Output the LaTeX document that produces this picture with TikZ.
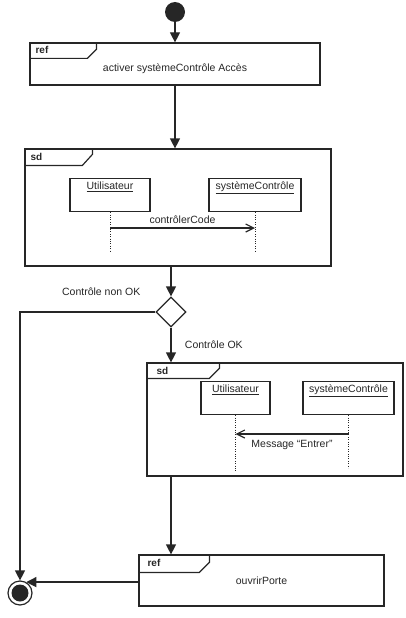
\documentclass[tikz,border=0pt]{standalone}
\usepackage{fontspec}
\setmainfont{Liberation Sans}
\usetikzlibrary{shapes.geometric,arrows.meta,positioning}
\tikzset{frame/.style={rectangle,draw,line width=1.2pt,inner sep=0pt},
  tabtext/.style={anchor=west,inner sep=0pt,font=\fontsize{10}{12}\selectfont\bfseries},
  lifebox/.style={rectangle,draw,line width=1.2pt,inner sep=3pt,anchor=north,text height=8pt,text depth=19pt},
  lifeline/.style={line width=1pt,dash pattern=on 1pt off 1.4pt},
  msg/.style={line width=1.2pt,-{Straight Barb[length=8pt,width=8pt]}},
  flow/.style={line width=1.2pt,-{Triangle[length=10pt,width=10pt]}},
  decision/.style={diamond,draw,line width=1.2pt,minimum width=30pt,minimum height=30pt,inner sep=0pt},
  initial/.style={circle,fill=black!85,minimum size=20pt,inner sep=0pt},
  final/.style={circle,draw,line width=1.2pt,minimum size=24pt,inner sep=0pt,
    path picture={\fill[black!85] (path picture bounding box.center) circle (8.5pt);}}}

\begin{document}
\begin{tikzpicture}[x=1pt,y=-1pt,font=\fontsize{10.5}{12}\selectfont,color=black!85]
        \useasboundingbox (0,0) rectangle (406,618);
        \node[initial] (init) at (175,12) {};
        \node[frame,minimum width=290pt,minimum height=42pt,text height=17pt] (ref1) at (175,64) {activer systèmeContrôle Accès};
        \node[frame,minimum width=306pt,minimum height=117pt] (sd1) at (178,207.5) {};
        \node[lifebox,minimum width=80pt] (u1) at (110,178) {\underline{Utilisateur}};
        \node[lifebox,minimum width=92pt] (s1) at (255,178) {\underline{systèmeContrôle}};
        \node[decision] (dec) at (171,312) {};
        \node[frame,minimum width=256pt,minimum height=113pt] (sd2) at (275,419.5) {};
        \node[lifebox,minimum width=69pt] (u2) at (235.5,381) {\underline{Utilisateur}};
        \node[lifebox,minimum width=91pt] (s2) at (348.5,381) {\underline{systèmeContrôle}};
        \node[frame,minimum width=245pt,minimum height=51pt] (ref2) at (261.5,580.5) {ouvrirPorte};
        \node[final] (fin) at (20,593) {};

        \coordinate (u1end) at (110,251);
        \coordinate (s1end) at (255,251);
        \coordinate (m1) at (0,228);
        \coordinate (u2end) at (235.5,472);
        \coordinate (s2end) at (348.5,468);
        \coordinate (m2) at (0,434);

        \draw[line width=1.2pt] (ref1.north west) ++(0,16) -- ++(58,0) -- ++(9,-9) -- ++(0,-7);
        \node[tabtext] at ([shift={(6,8)}]ref1.north west) {ref};
        \draw[line width=1.2pt] (sd1.north west) ++(0,17) -- ++(58,0) -- ++(10,-11) -- ++(0,-6);
        \node[tabtext] at ([shift={(6,9)}]sd1.north west) {sd};
        \draw[line width=1.2pt] (sd2.north west) ++(0,16) -- ++(63,0) -- ++(10,-10) -- ++(0,-6);
        \node[tabtext] at ([shift={(10,9)}]sd2.north west) {sd};
        \draw[line width=1.2pt] (ref2.north west) ++(0,18) -- ++(61,0) -- ++(10,-10) -- ++(0,-8);
        \node[tabtext] at ([shift={(9,9)}]ref2.north west) {ref};

        \draw[lifeline] (u1) -- (u1end);
        \draw[lifeline] (s1) -- (s1end);
        \draw[msg] (u1end |- m1) to []node[above]{contrôlerCode} (s1end |- m1);
        \draw[lifeline] (u2) -- (u2end);
        \draw[lifeline] (s2) -- (s2end);
        \draw[msg] (s2end |- m2) to []node[below=2pt]{Message “Entrer”} (u2end |- m2);

        \draw[flow] (init) -- (ref1);
        \draw[flow] (ref1.south) -- (ref1.south |- sd1.north);
        \draw[flow] (dec |- sd1.south) -- (dec);
        \draw[flow] (dec) -- (dec |- sd2.north) node[midway,right=10pt]{Contrôle OK};
        \draw[flow] (dec) -| (fin) node[pos=0.2,above=12pt]{Contrôle non OK};
        \draw[flow] (dec |- sd2.south) -- (dec |- ref2.north);
        \draw[flow] (fin.60 -| ref2.west) -- (fin.60);
    \end{tikzpicture}
\end{document}
